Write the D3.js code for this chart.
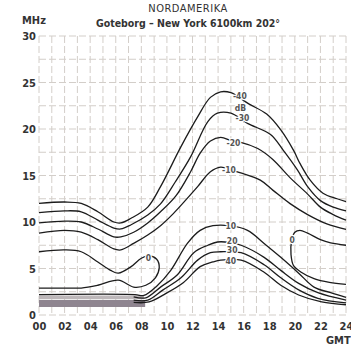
<!DOCTYPE html>
<html>
<head>
<meta charset="utf-8">
<script src="https://cdn.jsdelivr.net/npm/d3@7"></script>
<style>
  body { margin: 0; background: #fff; }
  svg { display: block; }
  text { font-family: "DejaVu Sans Condensed", "DejaVu Sans", sans-serif; fill: #333; }
</style>
</head>
<body>
<div id="chart"></div>
<script>
// tick labels
const hourTicks = ["00", "02", "04", "06", "08", "10", "12", "14", "16", "18", "20", "22", "24"];
const mhzTicks = [0, 5, 10, 15, 20, 25, 30];

// upper family, [hour, MHz]
const curveM40 = [[0,12.0],[2,12.15],[3.3,12.0],[4.6,11.1],[5.85,10.0],[6.4,9.9],[7.2,10.4],[8.5,11.6],[9.5,13.8],[11.1,18.1],[12.4,21.3],[13.4,23.4],[14.2,24.0],[15.0,23.9],[16.4,22.7],[17.8,21.6],[18.9,19.9],[19.9,17.7],[20.4,16.3],[21.2,14.5],[22.2,13.1],[23.3,12.5],[24,12.2]];
const curveM30 = [[0,11.0],[2,11.2],[3.3,11.1],[4.6,10.2],[5.85,9.35],[6.4,9.25],[7.2,9.7],[8.5,10.75],[9.5,11.95],[10.65,14.3],[11.85,17.0],[13.2,20.8],[13.95,21.7],[15.0,21.7],[16.3,20.6],[18.1,19.4],[19.1,17.7],[20.2,15.6],[21.0,13.8],[22.0,12.3],[23.0,11.6],[24,11.2]];
const curveM20 = [[0,9.9],[2,10.1],[3.3,10.0],[4.6,9.25],[5.85,8.4],[6.4,8.4],[7.4,8.9],[8.5,9.9],[9.5,11.1],[10.7,12.8],[11.85,15.4],[12.6,17.4],[13.4,18.7],[14.2,19.1],[15.1,18.7],[15.7,18.6],[17.1,17.9],[18.3,16.7],[19.6,14.8],[21.0,13.0],[22.0,11.6],[23.0,10.8],[24,10.2]];
const curveM10 = [[0,8.8],[2,9.1],[3.3,8.9],[4.6,8.1],[5.85,7.1],[6.4,7.0],[7.4,7.7],[8.5,8.6],[9.5,9.6],[10.5,10.9],[11.5,12.4],[12.4,13.8],[13.4,15.4],[14.2,15.9],[15.0,15.6],[15.7,15.3],[17.3,14.5],[18.3,13.4],[19.6,12.0],[21.0,10.8],[22.5,9.8],[24,9.2]];

// 0 dB contours
const curveZeroLeft = [[0,6.8],[2,7.0],[3.3,6.8],[4.6,5.7],[5.6,4.8],[6.2,4.5],[7.2,5.2],[8.0,6.1],[8.6,6.35],[9.2,6.0],[9.4,5.1],[9.1,4.0],[8.35,3.2],[7.4,3.0],[6.2,3.75],[4.6,3.2],[3.3,2.9],[2,2.9],[0,2.9]];
const curveZeroRight = [[24,7.5],[22.8,7.75],[22.0,8.1],[21.0,8.8],[20.4,9.1],[20.0,8.9],[19.75,8.0],[19.7,6.5],[19.9,5.3],[20.5,4.6],[21.5,3.9],[22.7,3.5],[24,3.3]];

// lower family
const curveP10 = [[0,2.2],[7.5,2.2],[8.2,2.1],[9.2,3.1],[10.3,4.8],[11.6,7.7],[12.6,9.1],[13.6,9.6],[14.9,9.6],[16.3,9.1],[17.6,7.7],[18.9,6.2],[20.3,4.5],[21.5,3.0],[22.8,2.4],[24,1.9]];
const curveP20 = [[7.4,1.95],[8.35,1.85],[9.5,3.0],[10.8,4.3],[12.1,6.7],[13.2,7.5],[13.95,7.85],[14.9,7.8],[15.8,7.5],[17.6,6.2],[18.9,4.8],[20.3,3.4],[21.8,2.4],[24,1.6]];
const curveP30 = [[7.4,1.6],[8.5,1.6],[9.7,2.7],[11.1,4.0],[12.4,5.9],[13.4,6.7],[14.2,6.8],[15.8,6.7],[17.6,5.4],[18.9,4.0],[20.3,2.7],[21.8,1.8],[24,1.3]];
const curveP40 = [[7.4,1.35],[8.6,1.4],[9.9,2.3],[11.3,3.5],[12.6,5.2],[13.6,5.7],[14.2,5.9],[15.8,5.9],[17.6,4.6],[18.9,3.2],[20.3,2.15],[22.1,1.4],[24,1.1]];

// shaded bands 00-08, [hour, top MHz, bottom MHz]
const bandLight = [[0,2.1,1.7],[8.2,2.1,1.7]];
const bandDark = [[0,1.6,0.85],[8.3,1.6,0.85]];

// curve labels [text, hour, MHz]
const curveLabels = [["-40",15.7,23.5],["dB",15.75,22.3],["-30",15.9,21.2],["-20",15.2,18.5],["-10",14.85,15.6],
  ["0",8.55,6.1],["0",19.8,8.1],["10",15.0,9.6],["20",15.1,7.95],["30",15.1,6.95],["40",15.0,5.8]];

const width = 351, height = 350;

const svg = d3.select("#chart").append("svg")
    .attr("width", width)
    .attr("height", height);

const x = d3.scaleLinear().domain([0, 24]).range([39, 346]);
const y = d3.scaleLinear().domain([0, 30]).range([315, 36]);

// grid
const grid = svg.append("g")
    .attr("stroke", "#d3cec9")
    .attr("stroke-width", 1)
    .attr("stroke-dasharray", "7,3");
grid.selectAll("line.v")
  .data(d3.range(0, 25))
  .join("line")
    .attr("class", "v")
    .attr("x1", d => x(d)).attr("x2", d => x(d))
    .attr("y1", y(30)).attr("y2", y(0));
grid.selectAll("line.h")
  .data(d3.range(0, 30.1, 2.5))
  .join("line")
    .attr("class", "h")
    .attr("x1", x(0)).attr("x2", x(24))
    .attr("y1", d => y(d)).attr("y2", d => y(d));

// bands
const area = d3.area()
    .x(d => x(d[0]))
    .y0(d => y(d[2]))
    .y1(d => y(d[1]));
svg.append("path").attr("d", area(bandLight)).attr("fill", "#bdb7b9");
svg.append("path").attr("d", area(bandDark)).attr("fill", "#8f8590");

// curves
const line = d3.line()
    .x(d => x(d[0]))
    .y(d => y(d[1]))
    .curve(d3.curveCatmullRom.alpha(0.5));

const curves = [curveM40, curveM30, curveM20, curveM10, curveZeroLeft, curveZeroRight,
  curveP10, curveP20, curveP30, curveP40];

svg.append("g")
  .selectAll("path")
  .data(curves)
  .join("path")
    .attr("d", line)
    .attr("fill", "none")
    .attr("stroke", "#1c1c1c")
    .attr("stroke-width", 1.3);

// curve labels with white halo
svg.append("g")
  .selectAll("text")
  .data(curveLabels)
  .join("text")
    .attr("x", d => x(d[1]))
    .attr("y", d => y(d[2]))
    .attr("dy", "0.35em")
    .attr("text-anchor", "middle")
    .style("font-size", "8.5px")
    .style("font-weight", "bold")
    .style("fill", "#555")
    .style("stroke", "#fff")
    .style("stroke-width", 2.5)
    .style("paint-order", "stroke")
    .text(d => d[0]);

// y axis labels
const yAxis = svg.append("g")
    .attr("transform", "translate(36,0)")
    .call(d3.axisLeft(y).tickValues(mhzTicks).tickSize(0).tickPadding(0));
yAxis.select(".domain").remove();
yAxis.selectAll("text")
    .style("font-size", "11px")
    .style("font-weight", "bold")
    .style("fill", "#333");

// x axis labels
const xAxis = svg.append("g")
    .attr("transform", "translate(0,320)")
    .call(d3.axisBottom(x).tickValues(d3.range(0, 25, 2)).tickSize(0).tickPadding(2)
      .tickFormat((d, i) => hourTicks[i]));
xAxis.select(".domain").remove();
xAxis.selectAll("text")
    .style("font-size", "11px")
    .style("font-weight", "bold")
    .style("fill", "#333");

svg.append("text")
    .attr("x", 326).attr("y", 344)
    .style("font-size", "11px")
    .style("font-weight", "bold")
    .text("GMT");

svg.append("text")
    .attr("x", 22).attr("y", 24)
    .style("font-size", "11px")
    .style("font-weight", "bold")
    .text("MHz");

// titles
svg.append("text")
    .attr("x", 188).attr("y", 12)
    .attr("text-anchor", "middle")
    .style("font-size", "11px")
    .style("letter-spacing", "0.5px")
    .text("NORDAMERIKA");

svg.append("text")
    .attr("x", 188).attr("y", 27)
    .attr("text-anchor", "middle")
    .style("font-size", "10.5px")
    .style("font-weight", "bold")
    .text("Goteborg – New York 6100km 202°");
</script>
</body>
</html>
